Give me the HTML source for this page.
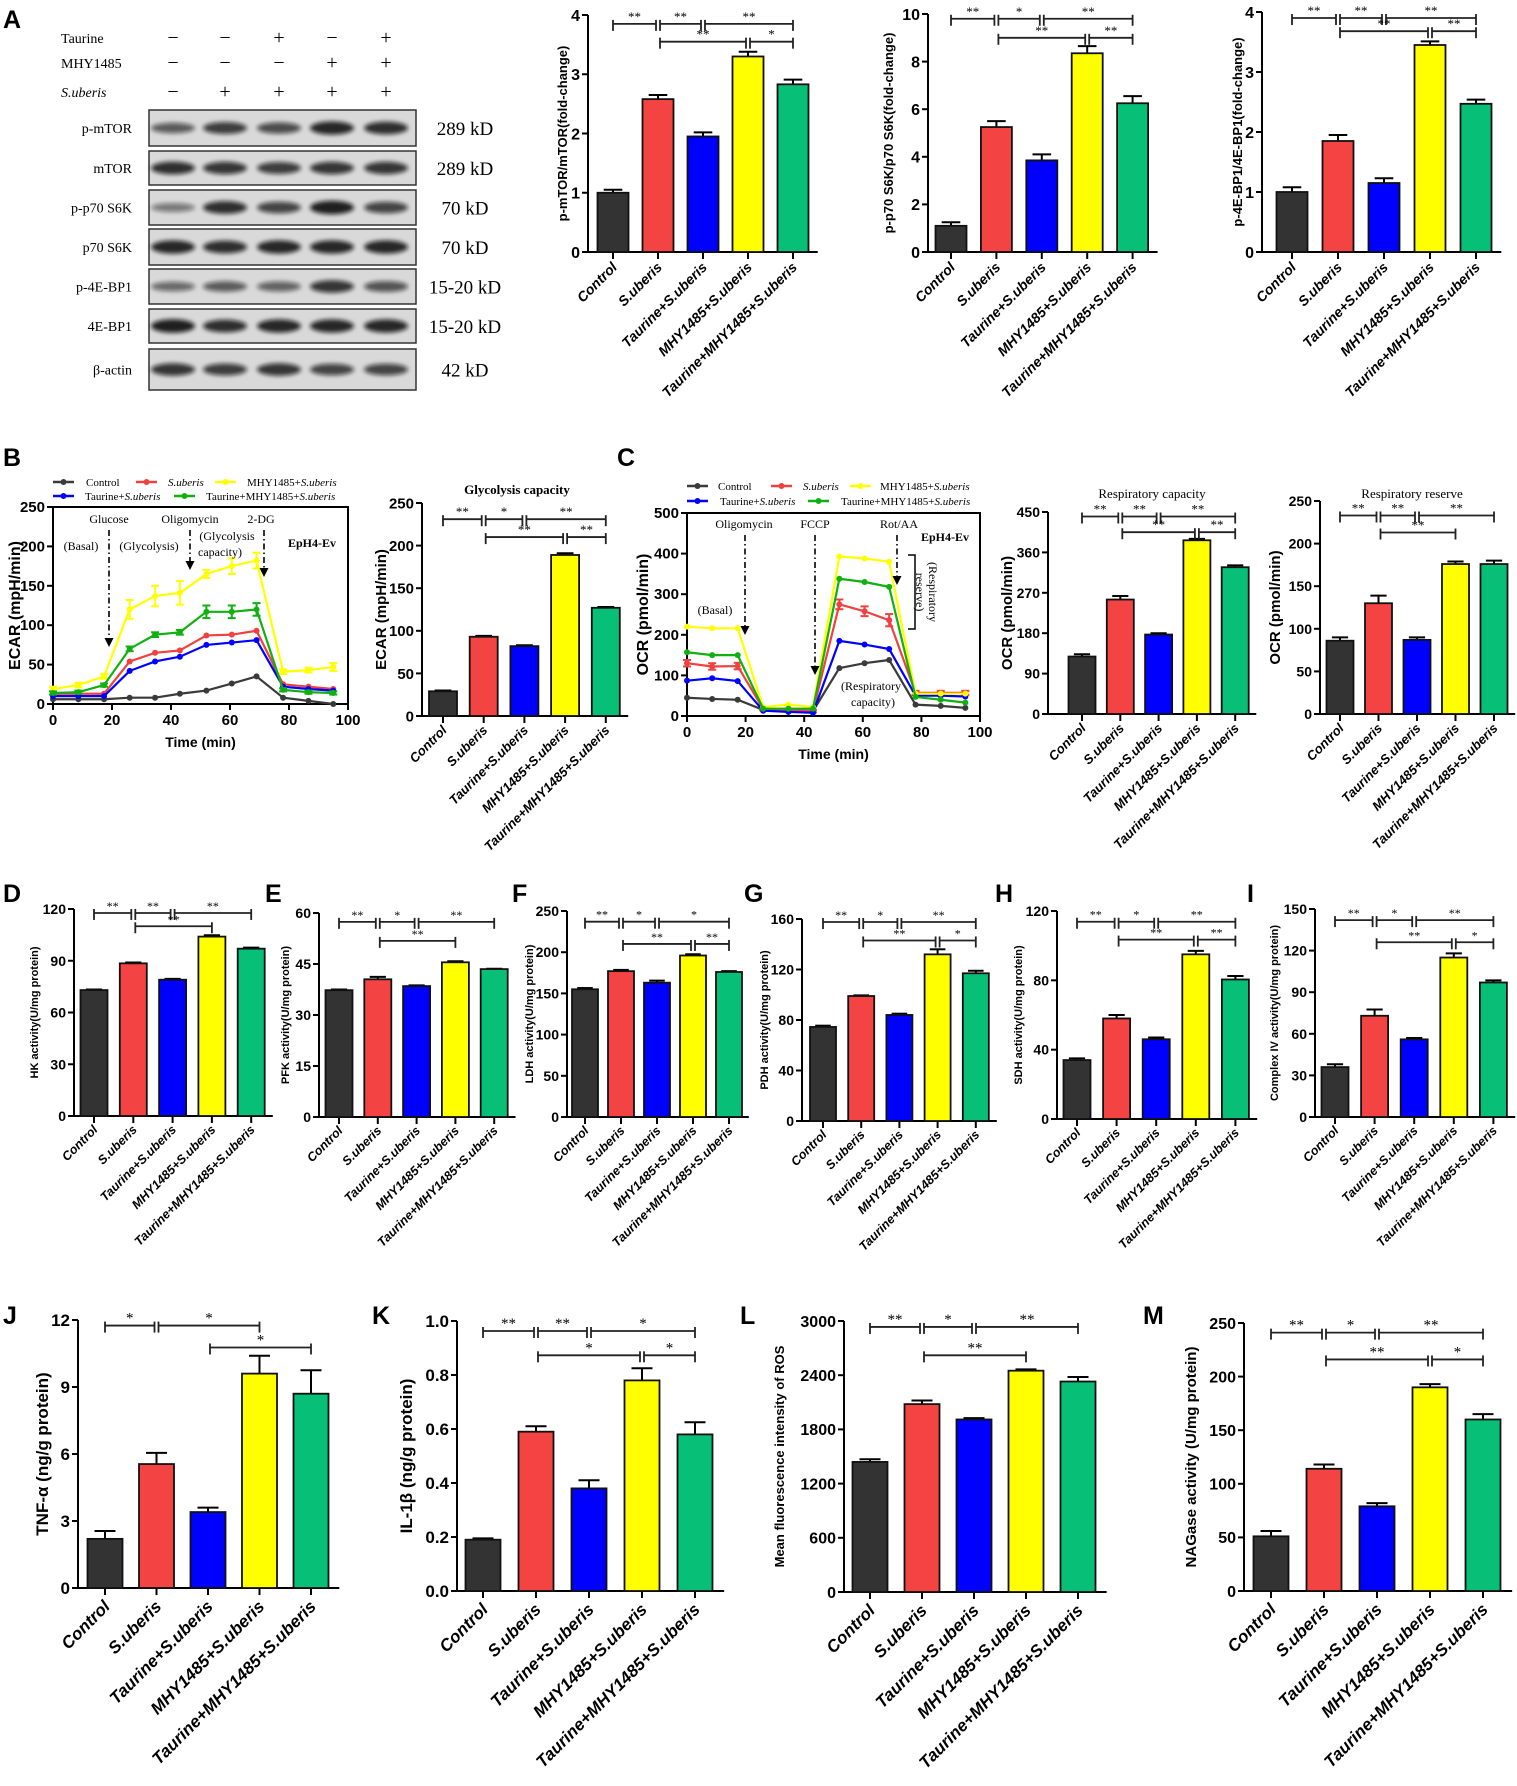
<!DOCTYPE html>
<html><head><meta charset="utf-8"><style>
html,body{margin:0;padding:0;background:#fff;}
svg{display:block;}
text{font-family:"Liberation Sans",Arial,sans-serif;}
.serif{font-family:"Liberation Serif","Times New Roman",serif;}
</style></head><body>
<svg id="fig" xmlns="http://www.w3.org/2000/svg" width="1517" height="1786" viewBox="0 0 1517 1786">
<defs><filter id="blur" x="-30%" y="-80%" width="160%" height="260%"><feGaussianBlur stdDeviation="2"/></filter></defs>
<g id="blot"></g>
<g id="charts"></g>
</svg>
<script>
// ===== data =====
const cats=["Control","S.uberis","Taurine+S.uberis","MHY1485+S.uberis","Taurine+MHY1485+S.uberis"];
const colors=["#333333","#f44343","#0000ff","#ffff00","#08bf78"];
const valsA1=[1.0,2.58,1.95,3.3,2.83], errA1=[0.05,0.07,0.07,0.08,0.08];
const valsA2=[1.1,5.25,3.85,8.35,6.25], errA2=[0.15,0.25,0.25,0.3,0.3];
const valsA3=[1.0,1.85,1.15,3.45,2.47], errA3=[0.08,0.1,0.08,0.06,0.07];
const valsB=[29,93,82,189,127], errB=[1,1,1,2,1];
const valsC1=[128,255,177,387,327], errC1=[5,8,3,3,4];
const valsC2=[86,130,87,176,176], errC2=[4,9,3,3,4];
const valsD=[73,88.5,79,104,97], errD=[0.3,0.5,0.5,0.8,0.6];
const valsE=[37.3,40.5,38.5,45.5,43.5], errE=[0.2,0.7,0.2,0.3,0.1];
const valsF=[155,177,163,196,176], errF=[1.5,1.5,2.5,1.5,1];
const valsG=[74.5,99,84,132,117], errG=[1,0.5,1,4,2];
const valsH=[34,58,46,95,80.5], errH=[1,2,1,2,2];
const valsI=[36,73,56,115,97], errI=[2,4.5,1,3,1.5];
const valsJ=[2.2,5.55,3.4,9.6,8.7], errJ=[0.35,0.5,0.2,0.8,1.05];
const valsK=[0.19,0.59,0.38,0.78,0.58], errK=[0.005,0.02,0.03,0.045,0.045];
const valsL=[1440,2080,1910,2450,2330], errL=[30,40,15,15,50];
const valsM=[51,114,79,190,160], errM=[5,4,3,3,5];
// line chart data
const timesB=[0,8.6,17.3,26,34.6,43,52,60.6,69,78,86.6,95];
const ecarControl=[6,6,6,8,8,13,17,26,35,8,4,0];
const ecarSub=[13,13,13,54,65,68,87,88,93,25,22,19];
const ecarTau=[10,10,10,42,54,60,75,78,81,22,19,17];
const ecarMHY=[19,24,35,120,137,141,165,175,182,41,43,47];
const ecarTM=[14,15,24,70,88,91,117,117,120,18,15,14];
const ecarErrMHY=[3,3,3,12,13,15,5,10,10,3,3,5];
const ecarErrTM=[2,2,2,3,3,3,8,8,8,2,2,2];
const timesC=[0,8.6,17.3,26,34.6,43,52,60.6,69,78,86.6,95];
const ocrControl=[45,42,40,15,12,12,118,130,138,28,25,20];
const ocrSub=[130,122,123,17,15,12,275,258,236,57,57,57];
const ocrTau=[87,93,86,13,10,8,185,176,165,50,50,48];
const ocrMHY=[220,216,216,22,28,22,393,388,380,55,55,55];
const ocrTM=[157,150,150,18,18,18,338,330,318,47,40,33];
const ocrErrSub=[8,8,8,3,3,3,12,12,15,5,5,5];
// blot intensities
const blotRows=["p-mTOR","mTOR","p-p70 S6K","p70 S6K","p-4E-BP1","4E-BP1","β-actin"];
const blotKd=["289 kD","289 kD","70 kD","70 kD","15-20 kD","15-20 kD","42 kD"];
const blotInt=[[0.55,0.75,0.65,0.9,0.85],[0.85,0.8,0.75,0.8,0.8],[0.35,0.85,0.7,0.95,0.7],[0.9,0.85,0.9,0.9,0.9],[0.45,0.55,0.5,0.8,0.6],[0.95,0.85,0.9,0.9,0.9],[0.8,0.75,0.8,0.7,0.7]];

const NS="http://www.w3.org/2000/svg";
const root=document.getElementById('charts');
function el(tag,attrs,parent,txt){const e=document.createElementNS(NS,tag);for(const k in attrs)e.setAttribute(k,attrs[k]);if(txt!==undefined)e.textContent=txt;(parent||root).appendChild(e);return e;}

// ===== panel letters =====
[["A",3,28],["B",3,466],["C",617,466],["D",3,902],["E",265,902],["F",512,902],["G",744,902],["H",995,902],["I",1247,902],["J",3,1324],["K",372,1324],["L",740,1324],["M",1143,1324]].forEach(p=>{
 const t=el('text',{x:p[1],y:p[2],'font-size':25,'font-weight':'bold'},root,p[0]);
 
 
});

// ===== bar chart =====
function barChart(c){
 const g=el('g',{});
 
 
 const sy=v=>c.y0-(v/c.max)*(c.y0-c.yTop);
 const cx=i=>c.cx0+i*c.dx;
 const right=cx(4)+c.dx*0.55;
 el('line',{x1:c.ax,y1:c.yTop,x2:c.ax,y2:c.y0,stroke:'#000','stroke-width':2},g);
 el('line',{x1:c.ax,y1:c.y0,x2:right,y2:c.y0,stroke:'#000','stroke-width':2},g);
 c.ticks.forEach(t=>{
  const y=sy(t);
  el('line',{x1:c.ax-6,y1:y,x2:c.ax,y2:y,stroke:'#000','stroke-width':2},g);
  const tl=el('text',{x:c.ax-8,y:y+c.fs*0.36,'font-size':c.fs,'font-weight':'bold','text-anchor':'end'},g,c.dec?t.toFixed(1):t);
  
  
 });
 if(c.title){const tt=el('text',{x:c.titleX,y:c.titleY,'font-size':c.titleFs||13,'font-weight':c.titleBold?'bold':'normal','text-anchor':'middle',class:'serif'},g,c.title);
  
  }
 const yl=el('text',{x:0,y:0,'font-size':c.lfs,'font-weight':'bold','text-anchor':'middle',transform:`translate(${c.ylx},${(c.y0+c.yTop)/2}) rotate(-90)`},g,c.ylabel);
 
 
 c.vals.forEach((v,i)=>{
  const x=cx(i), y=sy(v);
  el('line',{x1:x,y1:c.y0,x2:x,y2:c.y0+7,stroke:'#000','stroke-width':2},g);
  const e=sy(v+c.errs[i]);
  el('line',{x1:x,y1:y,x2:x,y2:e,stroke:'#000','stroke-width':2},g);
  el('line',{x1:x-c.bw*0.3,y1:e,x2:x+c.bw*0.3,y2:e,stroke:'#000','stroke-width':2},g);
  const r=el('rect',{x:x-c.bw/2,y:y,width:c.bw,height:c.y0-y,fill:colors[i],stroke:'#111','stroke-width':1.8},g);
  
  
  const lab=el('text',{x:0,y:0,'font-size':c.cfs,'font-weight':'bold','font-style':'italic','text-anchor':'end',transform:`translate(${x+c.cfs*0.35},${c.y0+c.cfs*1.15}) rotate(-45)`},g,cats[i]);
  
  
 });
 (c.sig||[]).forEach(s=>{
  const y=sy(s[0]);
  const x1=cx(s[1])+(s[1]>0?2:0), x2=cx(s[2])-(s[3]?2:0);
  el('line',{x1:x1,y1:y,x2:x2,y2:y,stroke:'#222','stroke-width':1.8},g);
  el('line',{x1:x1,y1:y-4,x2:x1,y2:y+7,stroke:'#222','stroke-width':1.8},g);
  el('line',{x1:x2,y1:y-4,x2:x2,y2:y+7,stroke:'#222','stroke-width':1.8},g);
  const st=el('text',{x:(x1+x2)/2,y:y-3,'font-size':c.sfs||13,'text-anchor':'middle',class:'serif'},g,s[4]);
  
  
 });
}
const rng=(a,b,s)=>{const r=[];for(let v=a;v<=b+1e-9;v+=s)r.push(+v.toFixed(3));return r;};

barChart({name:'chart-p-mtor',ax:588,y0:252,yTop:15,max:4,ticks:rng(0,4,1),cx0:613,dx:45,bw:31,fs:16,lfs:13,cfs:14,ylx:567,ylabel:'p-mTOR/mTOR(fold-change)',vals:valsA1,errs:errA1,
 sig:[[3.85,0,1,1,'**'],[3.85,1,2,1,'**'],[3.85,2,4,0,'**'],[3.55,1,3,1,'**'],[3.55,3,4,0,'*']]});
barChart({name:'chart-p-p70s6k',ax:928,y0:252,yTop:14,max:10,ticks:rng(0,10,2),cx0:951,dx:45.4,bw:31,fs:16,lfs:13,cfs:14,ylx:893,ylabel:'p-p70 S6K/p70 S6K(fold-change)',vals:valsA2,errs:errA2,
 sig:[[9.8,0,1,1,'**'],[9.8,1,2,1,'*'],[9.8,2,4,0,'**'],[9.0,1,3,1,'**'],[9.0,3,4,0,'**']]});
barChart({name:'chart-p-4ebp1',ax:1262,y0:252,yTop:12,max:4,ticks:rng(0,4,1),cx0:1292,dx:46,bw:31,fs:16,lfs:13,cfs:14,ylx:1242,ylabel:'p-4E-BP1/4E-BP1(fold-change)',vals:valsA3,errs:errA3,
 sig:[[3.9,0,1,1,'**'],[3.9,1,2,1,'**'],[3.9,2,4,0,'**'],[3.68,1,3,1,'**'],[3.68,3,4,0,'**']]});
barChart({name:'chart-glycolysis-capacity',ax:422,y0:716,yTop:503,max:250,ticks:rng(0,250,50),cx0:443,dx:40.7,bw:28,fs:15,lfs:15,cfs:13,ylx:386,ylabel:'ECAR (mpH/min)',vals:valsB,errs:errB,
 title:'Glycolysis capacity',titleX:517,titleY:494,titleBold:true,titleFs:13,
 sig:[[231,0,1,1,'**'],[231,1,2,1,'*'],[231,2,4,0,'**'],[210,1,3,1,'**'],[210,3,4,0,'**']]});
barChart({name:'chart-respiratory-capacity',ax:1048,y0:714,yTop:512,max:450,ticks:rng(0,450,90),cx0:1082,dx:38.3,bw:27,fs:14,lfs:15,cfs:13,ylx:1012,ylabel:'OCR (pmol/min)',vals:valsC1,errs:errC1,
 title:'Respiratory capacity',titleX:1152,titleY:498,titleFs:13,
 sig:[[440,0,1,1,'**'],[440,1,2,1,'**'],[440,2,4,0,'**'],[405,1,3,1,'**'],[405,3,4,0,'**']]});
barChart({name:'chart-respiratory-reserve',ax:1320,y0:714,yTop:501,max:250,ticks:rng(0,250,50),cx0:1340,dx:38.5,bw:27,fs:14,lfs:15,cfs:13,ylx:1280,ylabel:'OCR (pmol/min)',vals:valsC2,errs:errC2,
 title:'Respiratory reserve',titleX:1412,titleY:498,titleFs:13,
 sig:[[233,0,1,1,'**'],[233,1,2,1,'**'],[233,2,4,0,'**'],[213,1,3,0,'**']]});
barChart({name:'chart-hk',ax:74,y0:1116,yTop:909,max:120,ticks:rng(0,120,30),cx0:94,dx:39.3,bw:27,fs:14,lfs:11,cfs:12.5,ylx:38,ylabel:'HK activity(U/mg protein)',vals:valsD,errs:errD,sfs:12,
 sig:[[117.7,0,1,1,'**'],[117.7,1,2,1,'**'],[117.7,2,4,0,'**'],[110,1,3,0,'**']]});
barChart({name:'chart-pfk',ax:319,y0:1117,yTop:913,max:60,ticks:rng(0,60,15),cx0:339,dx:38.8,bw:27,fs:14,lfs:11,cfs:12.5,ylx:289,ylabel:'PFK activity(U/mg protein)',vals:valsE,errs:errE,sfs:12,
 sig:[[57.4,0,1,1,'**'],[57.4,1,2,1,'*'],[57.4,2,4,0,'**'],[51.8,1,3,0,'**']]});
barChart({name:'chart-ldh',ax:567,y0:1117,yTop:911,max:250,ticks:rng(0,250,50),cx0:585,dx:36,bw:26,fs:14,lfs:11,cfs:12.5,ylx:533,ylabel:'LDH activity(U/mg protein)',vals:valsF,errs:errF,sfs:12,
 sig:[[237,0,1,1,'**'],[237,1,2,1,'*'],[237,2,4,0,'*'],[210,1,3,1,'**'],[210,3,4,0,'**']]});
barChart({name:'chart-pdh',ax:802,y0:1121,yTop:919,max:160,ticks:rng(0,160,40),cx0:823,dx:38.2,bw:26,fs:14,lfs:11,cfs:12.5,ylx:768,ylabel:'PDH activity(U/mg protein)',vals:valsG,errs:errG,sfs:12,
 sig:[[157.6,0,1,1,'**'],[157.6,1,2,1,'*'],[157.6,2,4,0,'**'],[143,1,3,1,'**'],[143,3,4,0,'*']]});
barChart({name:'chart-sdh',ax:1057,y0:1119,yTop:911,max:120,ticks:rng(0,120,40),cx0:1077,dx:39.6,bw:27,fs:14,lfs:11,cfs:12.5,ylx:1022,ylabel:'SDH activity(U/mg protein)',vals:valsH,errs:errH,sfs:12,
 sig:[[113.8,0,1,1,'**'],[113.8,1,2,1,'*'],[113.8,2,4,0,'**'],[103.5,1,3,1,'**'],[103.5,3,4,0,'**']]});
barChart({name:'chart-complex-iv',ax:1315,y0:1117,yTop:909,max:150,ticks:rng(0,150,30),cx0:1335,dx:39.6,bw:27,fs:14,lfs:11,cfs:12.5,ylx:1278,ylabel:'Complex IV activity(U/mg protein)',vals:valsI,errs:errI,sfs:12,
 sig:[[142,0,1,1,'**'],[142,1,2,1,'*'],[142,2,4,0,'**'],[126,1,3,1,'**'],[126,3,4,0,'*']]});
barChart({name:'chart-tnf-alpha',ax:78,y0:1588,yTop:1320,max:12,ticks:rng(0,12,3),cx0:105,dx:51.5,bw:35,fs:17,lfs:17,cfs:17,ylx:48,ylabel:'TNF-α (ng/g protein)',vals:valsJ,errs:errJ,sfs:15,
 sig:[[11.75,0,1,1,'*'],[11.75,1,3,0,'*'],[10.77,2,4,0,'*']]});
barChart({name:'chart-il-1beta',ax:457,y0:1591,yTop:1321,max:1,ticks:rng(0,1,0.2),dec:true,cx0:483,dx:53,bw:35,fs:17,lfs:17,cfs:17,ylx:412,ylabel:'IL-1β (ng/g protein)',vals:valsK,errs:errK,sfs:15,
 sig:[[0.963,0,1,1,'**'],[0.963,1,2,1,'**'],[0.963,2,4,0,'*'],[0.873,1,3,1,'*'],[0.873,3,4,0,'*']]});
barChart({name:'chart-ros',ax:844,y0:1592,yTop:1321,max:3000,ticks:rng(0,3000,600),cx0:870,dx:52,bw:35,fs:16,lfs:13,cfs:17,ylx:784,ylabel:'Mean fluorescence  intensity of ROS',vals:valsL,errs:errL,sfs:15,
 sig:[[2934,0,1,1,'**'],[2934,1,2,1,'*'],[2934,2,4,0,'**'],[2620,1,3,0,'**']]});
barChart({name:'chart-nagase',ax:1244,y0:1591,yTop:1323,max:250,ticks:rng(0,250,50),cx0:1271,dx:53,bw:35,fs:16,lfs:15,cfs:17,ylx:1196,ylabel:'NAGase activity (U/mg protein)',vals:valsM,errs:errM,sfs:15,
 sig:[[241,0,1,1,'**'],[241,1,2,1,'*'],[241,2,4,0,'**'],[216,1,3,1,'**'],[216,3,4,0,'*']]});

// ===== line charts =====
const lineColors=["#3a3a3a","#f04040","#0000ff","#ffff00","#10b010"];
function lineChart(c){
 const g=el('g',{});
 
 
 const sx=v=>c.x0+(v/100)*(c.x1-c.x0);
 const sy=v=>c.y0-(v/c.max)*(c.y0-c.yTop);
 el('rect',{x:c.x0,y:c.yTop,width:c.x1-c.x0,height:c.y0-c.yTop,fill:'none',stroke:'#000','stroke-width':2},g);
 c.yticks.forEach(t=>{const y=sy(t);el('line',{x1:c.x0-6,y1:y,x2:c.x0,y2:y,stroke:'#000','stroke-width':2},g);
  const tl=el('text',{x:c.x0-8,y:y+5,'font-size':15,'font-weight':'bold','text-anchor':'end'},g,t);
  
  });
 [0,20,40,60,80,100].forEach(t=>{const x=sx(t);el('line',{x1:x,y1:c.y0,x2:x,y2:c.y0+6,stroke:'#000','stroke-width':2},g);
  const tl=el('text',{x:x,y:c.y0+21,'font-size':15,'font-weight':'bold','text-anchor':'middle'},g,t);
  
  });
 const xt=el('text',{x:(c.x0+c.x1)/2,y:c.y0+43,'font-size':14,'font-weight':'bold','text-anchor':'middle'},g,'Time (min)');
 
 
 const yt=el('text',{x:0,y:0,'font-size':16,'font-weight':'bold','text-anchor':'middle',transform:`translate(${c.ylx},${(c.y0+c.yTop)/2}) rotate(-90)`},g,c.ylabel);
 
 
 c.series.forEach((s,k)=>{
  const pts=s.vals.map((v,i)=>sx(c.times[i])+','+sy(v)).join(' ');
  const pl=el('polyline',{points:pts,fill:'none',stroke:lineColors[k],'stroke-width':2.2},g);
  
  
  s.vals.forEach((v,i)=>{
   const x=sx(c.times[i]),y=sy(v);
   if(s.err){const e=s.err[i];el('line',{x1:x,y1:sy(v-e),x2:x,y2:sy(v+e),stroke:lineColors[k],'stroke-width':2},g);
    el('line',{x1:x-4,y1:sy(v+e),x2:x+4,y2:sy(v+e),stroke:lineColors[k],'stroke-width':2},g);
    el('line',{x1:x-4,y1:sy(v-e),x2:x+4,y2:sy(v-e),stroke:lineColors[k],'stroke-width':2},g);}
   const m=el('circle',{cx:x,cy:y,r:3,fill:lineColors[k]},g);
   
   
  });
 });
 c.legend.forEach((L,k)=>{
  el('line',{x1:L[0],y1:L[1],x2:L[0]+21,y2:L[1],stroke:lineColors[L[3]],'stroke-width':2.5},g);
  el('circle',{cx:L[0]+10.5,cy:L[1],r:3,fill:lineColors[L[3]]},g);
  const t=el('text',{x:L[2],y:L[1]+4,'font-size':11,class:'serif'},g);
  
  
  const parts=L[4].split('S.uberis');
  t.appendChild(document.createTextNode(parts[0]));
  if(parts.length>1){const ts=document.createElementNS(NS,'tspan');ts.setAttribute('font-style','italic');ts.textContent='S.uberis';t.appendChild(ts);}
 });
 return {sx,sy,g};
}
const B=lineChart({name:'chart-ecar-time',x0:53,x1:348,y0:704,yTop:507,max:250,yticks:rng(0,250,50),times:timesB,ylx:20,ylabel:'ECAR (mpH/min)',
 series:[{key:'control',vals:ecarControl},{key:'s-uberis',vals:ecarSub},{key:'taurine',vals:ecarTau},{key:'mhy1485',vals:ecarMHY,err:ecarErrMHY},{key:'taurine-mhy1485',vals:ecarTM,err:ecarErrTM}],
 legend:[[53,482,86,0,'Control'],[136,482,168,1,'S.uberis'],[215,482,247,3,'MHY1485+S.uberis'],[53,496,85,2,'Taurine+S.uberis'],[174,496,206,4,'Taurine+MHY1485+S.uberis']]});
const C=lineChart({name:'chart-ocr-time',x0:687,x1:980,y0:716,yTop:513,max:500,yticks:rng(0,500,100),times:timesC,ylx:648,ylabel:'OCR (pmol/min)',
 series:[{key:'control',vals:ocrControl},{key:'s-uberis',vals:ocrSub,err:ocrErrSub},{key:'taurine',vals:ocrTau},{key:'mhy1485',vals:ocrMHY},{key:'taurine-mhy1485',vals:ocrTM}],
 legend:[[687,486,718,0,'Control'],[771,486,803,1,'S.uberis'],[850,486,880,3,'MHY1485+S.uberis'],[687,501,720,2,'Taurine+S.uberis'],[808,501,841,4,'Taurine+MHY1485+S.uberis']]});

function ann(g,x,y,t,opts){const e=el('text',Object.assign({x:x,y:y,'font-size':12,'text-anchor':'middle',class:'serif'},opts||{}),g,t);return e;}
function arrow(g,x,y1,y2){el('line',{x1:x,y1:y1,x2:x,y2:y2-8,stroke:'#000','stroke-width':1.6,'stroke-dasharray':'6,3,1.5,3'},g);
 el('polygon',{points:`${x-4.5},${y2-9} ${x+4.5},${y2-9} ${x},${y2}`,fill:'#000'},g);}
ann(B.g,109,523,'Glucose');ann(B.g,190,523,'Oligomycin');ann(B.g,261,523,'2-DG');
ann(B.g,81,550,'(Basal)');ann(B.g,149,550,'(Glycolysis)');ann(B.g,227,540,'(Glycolysis');ann(B.g,220,556,'capacity)');
ann(B.g,312,547,'EpH4-Ev',{'font-weight':'bold'});
arrow(B.g,109,530,647);arrow(B.g,190,530,570);arrow(B.g,264,530,577);
ann(C.g,744,528,'Oligomycin');ann(C.g,815,528,'FCCP');ann(C.g,899,528,'Rot/AA');ann(C.g,945,541,'EpH4-Ev',{'font-weight':'bold'});
ann(C.g,715,614,'(Basal)');ann(C.g,871,690,'(Respiratory');ann(C.g,873,706,'capacity)');
arrow(C.g,745,535,635);arrow(C.g,815,535,675);arrow(C.g,897,535,585);
el('polyline',{points:'908,555 915,555 915,629 908,629',fill:'none',stroke:'#000','stroke-width':1.5},C.g);
ann(C.g,0,0,'(Respiratory',{transform:'translate(929,592) rotate(90)'});
ann(C.g,0,0,'reserve)',{transform:'translate(916,592) rotate(90)'});

// ===== western blot =====
const blot=document.getElementById('blot');
const lanes=[173,225,279,332,386];
[["Taurine",38,['−','−','+','−','+']],["MHY1485",63,['−','−','−','+','+']],["S.uberis",92,['−','+','+','+','+']]].forEach((r,ri)=>{
 const t=el('text',{x:61,y:r[1]+5,'font-size':14,class:'serif','font-style':ri==2?'italic':'normal'},blot,r[0]);
 
 
 r[2].forEach((s,i)=>{const m=el('text',{x:lanes[i],y:r[1]+6,'font-size':20,'text-anchor':'middle',class:'serif'},blot,s);
  
  });
});
const rowY=[[110,146],[151,185],[190,225],[229,265],[269,304],[309,343],[349,390]];
blotRows.forEach((name,r)=>{
 const [t,b]=rowY[r], cy=(t+b)/2;
 const box=el('rect',{x:149,y:t,width:267,height:b-t,fill:'#d9d9d9',stroke:'#333','stroke-width':1.5},blot);
 
 
 blotInt[r].forEach((v,i)=>{el('ellipse',{cx:lanes[i],cy:cy,rx:22,ry:3+4*v,fill:'#111','fill-opacity':0.25+0.7*v,filter:'url(#blur)'},blot);});
 const lb=el('text',{x:132,y:cy+5,'font-size':14,'text-anchor':'end',class:'serif'},blot,name);
 
 
 const kd=el('text',{x:465,y:cy+7,'font-size':19,'text-anchor':'middle',class:'serif'},blot,blotKd[r]);
 
 
});
</script>
</body></html>
